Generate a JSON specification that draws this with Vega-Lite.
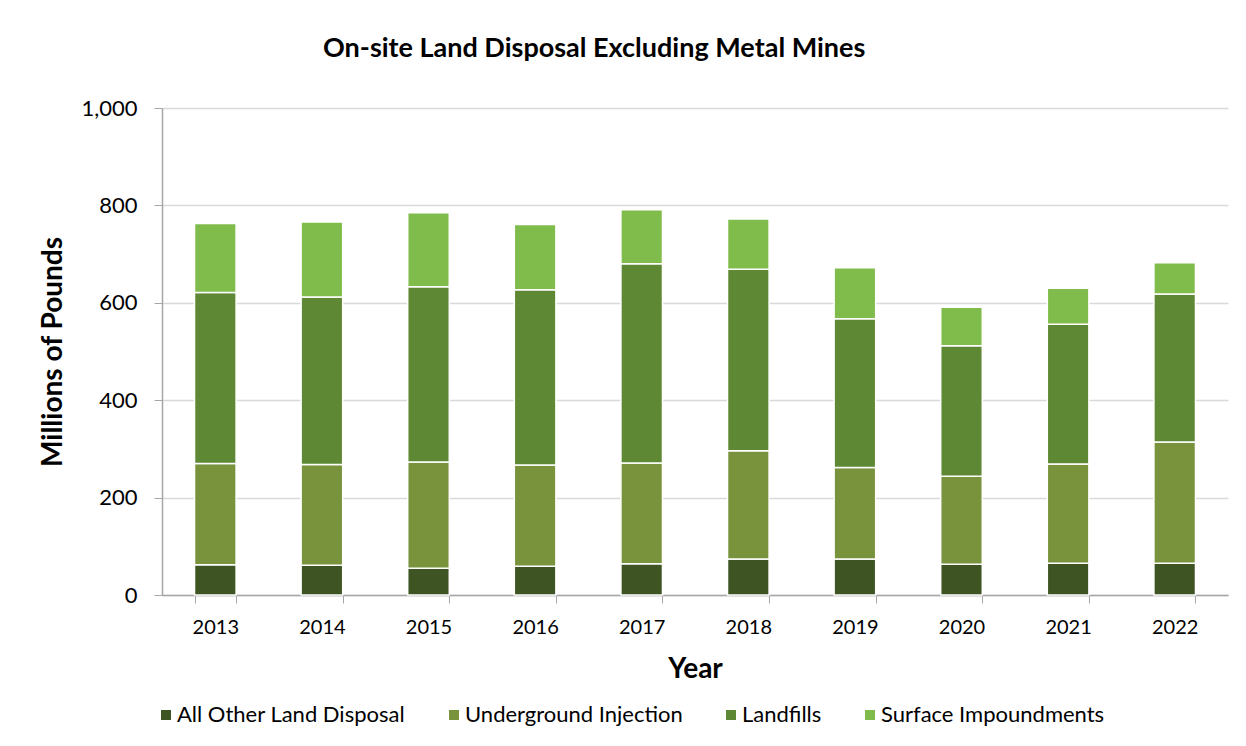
{
  "$schema": "https://vega.github.io/schema/vega-lite/v6.json",
  "autosize": {"type": "none"},
  "width": 1066,
  "height": 487,
  "padding": {"left": 162, "top": 108, "right": 18, "bottom": 151},
  "background": "white",
  "title": {
    "text": "On-site Land Disposal Excluding Metal Mines",
    "anchor": "start",
    "frame": "group",
    "dx": 161,
    "offset": 34,
    "font": "Lato",
    "fontSize": 27,
    "fontWeight": "bold",
    "color": "#000000"
  },
  "datasets": {
    "series": [
      {"category": "All Other Land Disposal", "rank": 1},
      {"category": "Underground Injection", "rank": 2},
      {"category": "Landfills", "rank": 3},
      {"category": "Surface Impoundments", "rank": 4}
    ]
  },
  "data": {
    "values": [
      {"year": "2013", "category": "All Other Land Disposal", "value": 62},
      {"year": "2013", "category": "Underground Injection", "value": 208},
      {"year": "2013", "category": "Landfills", "value": 351},
      {"year": "2013", "category": "Surface Impoundments", "value": 142},
      {"year": "2014", "category": "All Other Land Disposal", "value": 61},
      {"year": "2014", "category": "Underground Injection", "value": 207},
      {"year": "2014", "category": "Landfills", "value": 344},
      {"year": "2014", "category": "Surface Impoundments", "value": 154},
      {"year": "2015", "category": "All Other Land Disposal", "value": 55},
      {"year": "2015", "category": "Underground Injection", "value": 218},
      {"year": "2015", "category": "Landfills", "value": 360},
      {"year": "2015", "category": "Surface Impoundments", "value": 152},
      {"year": "2016", "category": "All Other Land Disposal", "value": 59},
      {"year": "2016", "category": "Underground Injection", "value": 208},
      {"year": "2016", "category": "Landfills", "value": 360},
      {"year": "2016", "category": "Surface Impoundments", "value": 134},
      {"year": "2017", "category": "All Other Land Disposal", "value": 64},
      {"year": "2017", "category": "Underground Injection", "value": 207},
      {"year": "2017", "category": "Landfills", "value": 409},
      {"year": "2017", "category": "Surface Impoundments", "value": 111},
      {"year": "2018", "category": "All Other Land Disposal", "value": 74},
      {"year": "2018", "category": "Underground Injection", "value": 222},
      {"year": "2018", "category": "Landfills", "value": 373},
      {"year": "2018", "category": "Surface Impoundments", "value": 103},
      {"year": "2019", "category": "All Other Land Disposal", "value": 74},
      {"year": "2019", "category": "Underground Injection", "value": 188},
      {"year": "2019", "category": "Landfills", "value": 305},
      {"year": "2019", "category": "Surface Impoundments", "value": 105},
      {"year": "2020", "category": "All Other Land Disposal", "value": 63},
      {"year": "2020", "category": "Underground Injection", "value": 181},
      {"year": "2020", "category": "Landfills", "value": 268},
      {"year": "2020", "category": "Surface Impoundments", "value": 79},
      {"year": "2021", "category": "All Other Land Disposal", "value": 65},
      {"year": "2021", "category": "Underground Injection", "value": 204},
      {"year": "2021", "category": "Landfills", "value": 287},
      {"year": "2021", "category": "Surface Impoundments", "value": 74},
      {"year": "2022", "category": "All Other Land Disposal", "value": 65},
      {"year": "2022", "category": "Underground Injection", "value": 249},
      {"year": "2022", "category": "Landfills", "value": 304},
      {"year": "2022", "category": "Surface Impoundments", "value": 64}
    ]
  },
  "transform": [
    {"lookup": "category", "from": {"data": {"name": "series"}, "key": "category", "fields": ["rank"]}}
  ],
  "mark": {"type": "bar", "stroke": "white", "strokeWidth": 1.5},
  "encoding": {
    "x": {
      "field": "year",
      "type": "ordinal",
      "title": "Year",
      "scale": {"paddingInner": 0.61, "paddingOuter": 0.305},
      "axis": {
        "labelAngle": 0,
        "labelFont": "Lato",
        "labelFontSize": 20,
        "labelColor": "#000000",
        "labelPadding": 14,
        "tickBand": "extent",
        "tickSize": 8,
        "tickColor": "#A6A6A6",
        "domainColor": "#A6A6A6",
        "domainWidth": 1.5,
        "titleFont": "Lato",
        "titleFontSize": 28,
        "titleFontWeight": "bold",
        "titleColor": "#000000",
        "titlePadding": 18
      }
    },
    "y": {
      "field": "value",
      "type": "quantitative",
      "stack": "zero",
      "title": "Millions of Pounds",
      "scale": {"domain": [0, 1000]},
      "axis": {
        "values": [0, 200, 400, 600, 800, 1000],
        "format": ",d",
        "labelFont": "Lato",
        "labelFontSize": 22,
        "labelColor": "#000000",
        "labelPadding": 17,
        "tickSize": 8,
        "tickColor": "#A6A6A6",
        "domainColor": "#A6A6A6",
        "domainWidth": 1.5,
        "gridColor": "#D9D9D9",
        "gridWidth": 1.5,
        "titleFont": "Lato",
        "titleFontSize": 28,
        "titleFontWeight": "bold",
        "titleColor": "#000000",
        "titlePadding": 13
      }
    },
    "color": {
      "field": "category",
      "type": "nominal",
      "sort": ["All Other Land Disposal", "Underground Injection", "Landfills", "Surface Impoundments"],
      "scale": {
        "domain": ["All Other Land Disposal", "Underground Injection", "Landfills", "Surface Impoundments"],
        "range": ["#3E5423", "#79933D", "#5E8834", "#80BC4C"]
      },
      "legend": {
        "title": null,
        "orient": "none",
        "direction": "horizontal",
        "legendX": -7,
        "legendY": 596,
        "symbolType": "square",
        "symbolSize": 100,
        "symbolStrokeWidth": 0,
        "labelFont": "Lato",
        "labelFontSize": 22,
        "labelLimit": 0,
        "labelColor": "#000000",
        "labelOffset": 0,
        "columnPadding": 37
      }
    },
    "order": {"field": "rank", "type": "quantitative", "sort": "ascending"}
  },
  "config": {
    "view": {"stroke": null},
    "axis": {"grid": false},
    "axisY": {"grid": true}
  }
}
